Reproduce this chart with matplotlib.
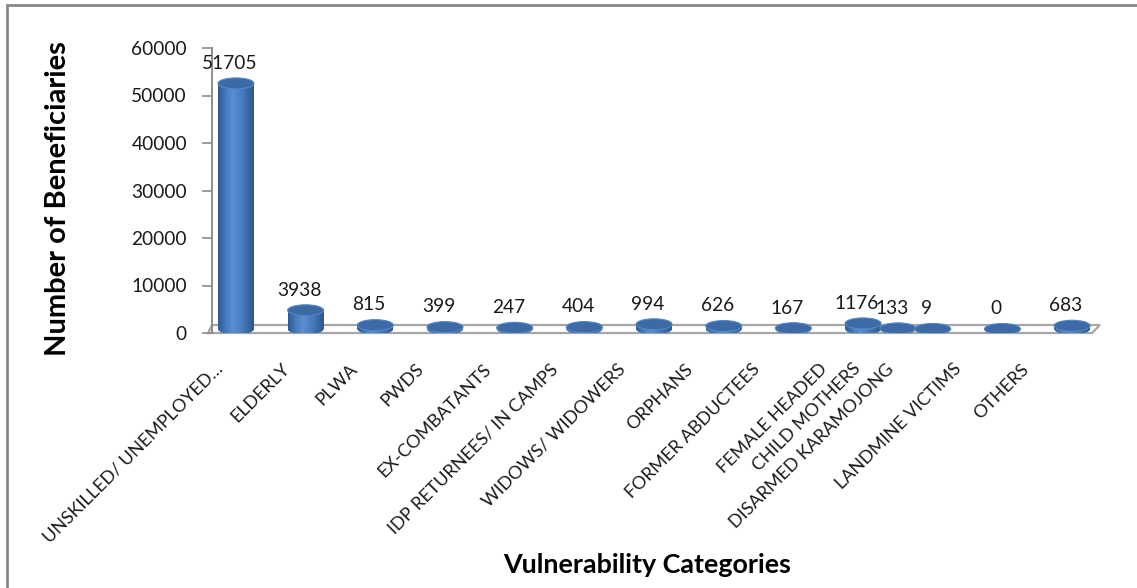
import numpy as np
import matplotlib
matplotlib.use("Agg")
import matplotlib.pyplot as plt
from matplotlib.patches import Ellipse, Rectangle, Polygon
from matplotlib.colors import LinearSegmentedColormap

# ---- data -------------------------------------------------------------
categories = [
    "UNSKILLED/ UNEMPLOYED\u2026", "ELDERLY", "PLWA", "PWDS", "EX-COMBATANTS",
    "IDP RETURNEES/ IN CAMPS", "WIDOWS/ WIDOWERS", "ORPHANS", "FORMER ABDUCTEES",
    "FEMALE HEADED", "CHILD MOTHERS", "DISARMED KARAMOJONG", "LANDMINE VICTIMS",
    "OTHERS",
]
beneficiaries = [51705, 3938, 815, 399, 247, 404, 994, 626, 167, 1176, 133, 9, 0, 683]
y_ticks = [0, 10000, 20000, 30000, 40000, 50000, 60000]

# ---- layout -----------------------------------------------------------
# slot of each category along the floor (two categories share the tenth slot)
slots = [0, 1, 2, 3, 4, 5, 6, 7, 8, 9, 9.5, 10, 11, 12]

W, H, DPI = 1137, 588, 100
FONT = "Lato"
plt.rcParams["font.family"] = [FONT, "DejaVu Sans"]

fig = plt.figure(figsize=(W / DPI, H / DPI), dpi=DPI)
fig.patch.set_facecolor("white")

ax_left, ax_right = 212, 1100          # px
ax_top, ax_bottom = 48, 333            # px from top
ax = fig.add_axes([ax_left / W, (H - ax_bottom) / H,
                   (ax_right - ax_left) / W, (ax_bottom - ax_top) / H])
ax.set_xlim(-0.344, 12.4)
ax.set_ylim(y_ticks[0], y_ticks[-1])
ax.patch.set_alpha(0)

# conversions from pixels to data units
px_x = (12.4 + 0.344) / (ax_right - ax_left)
px_y = (y_ticks[-1] - y_ticks[0]) / (ax_bottom - ax_top)

# ---- axes styling -------------------------------------------------------
for s in ["top", "right", "bottom"]:
    ax.spines[s].set_visible(False)
ax.spines["left"].set_color("#8c8c8c")
ax.spines["left"].set_linewidth(1.4)
ax.set_yticks(y_ticks)
ax.set_yticklabels([str(t) for t in y_ticks])
ax.tick_params(axis="y", length=7, width=1.2, color="#8c8c8c", pad=11,
               labelsize=13.8, labelcolor="#1a1a1a")

# ---- floor ------------------------------------------------------------
depth = 8 * px_y
floor = Polygon([(-0.344 - 4 * px_x, 0), (12.4 - 8 * px_x, 0), (12.4, depth),
                 (-0.344, depth)], closed=True, facecolor="white",
                edgecolor="#a6a6a6", linewidth=1.6, zorder=1, clip_on=False)
ax.add_patch(floor)

# ---- cylinders ----------------------------------------------------------
bar_w = 36 * px_x
ell_h = 11 * px_y
base = depth / 2

body_cmap = LinearSegmentedColormap.from_list(
    "cyl", [(0.0, "#2d5a92"), (0.22, "#467bbd"), (0.42, "#5a8fd2"),
            (0.7, "#4579ba"), (1.0, "#2b568d")])
grad = np.linspace(0, 1, 256).reshape(1, -1)

for s, v in zip(slots, beneficiaries):
    x0, x1 = s - bar_w / 2, s + bar_w / 2
    top = base + v
    # body
    body = Rectangle((x0, base), bar_w, v, transform=ax.transData)
    im = ax.imshow(grad, cmap=body_cmap, aspect="auto", interpolation="bilinear",
                   extent=(x0, x1, base - ell_h, top + ell_h), zorder=3)
    im.set_clip_path(body)
    # rounded bottom
    bottom = Ellipse((s, base), bar_w, ell_h, transform=ax.transData)
    im2 = ax.imshow(grad, cmap=body_cmap, aspect="auto", interpolation="bilinear",
                    extent=(x0, x1, base - ell_h, top + ell_h), zorder=3)
    im2.set_clip_path(bottom)
    # cap
    cap = Ellipse((s, top), bar_w, ell_h, facecolor="#3c6aa6",
                  edgecolor="#5687c4", linewidth=0.8, zorder=4)
    ax.add_patch(cap)
    # value label
    ax.annotate(str(v), (s, top), xytext=(-4.5, 14.5), textcoords="offset points",
                ha="center", va="center", fontsize=13.8, color="#1a1a1a",
                zorder=6, annotation_clip=False)

ax.set_xlim(-0.344, 12.4)
ax.set_ylim(y_ticks[0], y_ticks[-1])

# ---- category labels ------------------------------------------------------
label_x = [s * 0.964 - 0.23 for s in slots]
ax.set_xticks(label_x)
ax.set_xticklabels(categories, rotation=45, ha="right", va="center",
                   rotation_mode="anchor", fontsize=13, color="#1a1a1a")
ax.tick_params(axis="x", length=0, pad=24)

# ---- titles -----------------------------------------------------------------
fig.text(58 / W, (H - 199) / H, "Number of Beneficiaries", rotation=90,
         ha="center", va="center", fontsize=21, fontweight="bold", color="black")
fig.text(647 / W, (H - 565) / H, "Vulnerability Categories", ha="center",
         va="center", fontsize=19.4, fontweight="bold", color="black")

# ---- outer chart border ----------------------------------------------------
frame = Rectangle((7 / W, -0.05), 1.1, (H - 5) / H + 0.05, transform=fig.transFigure,
                  facecolor="none", edgecolor="#878787", linewidth=2.0,
                  clip_on=False)
fig.patches.append(frame)

fig.savefig("out.png", dpi=DPI, facecolor="white")
